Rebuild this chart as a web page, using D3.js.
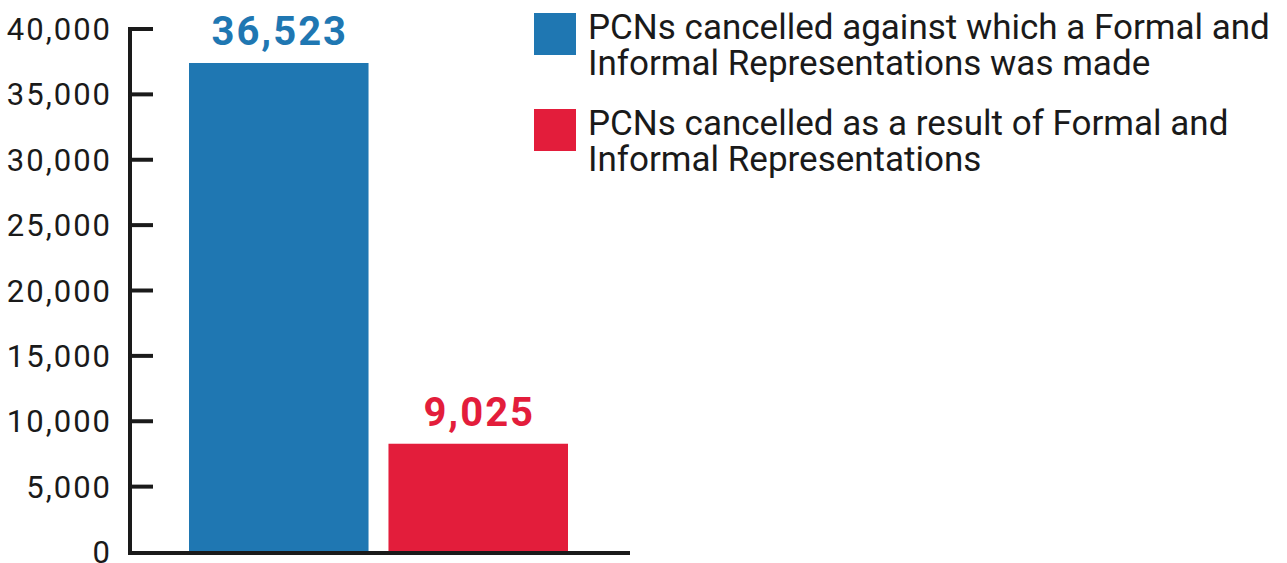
<!DOCTYPE html>
<html>
<meta charset="utf-8">
<title>PCNs cancelled</title>
<style>
  body { margin: 0; background: #fff; }
  svg text { font-family: Roboto, "Liberation Sans", sans-serif; }
  .axis text { font-size: 31px; fill: #1a1a1a; letter-spacing: 2px; }
</style>
<script src="https://d3js.org/d3.v7.min.js"></script>
<body>
<script>
// data
var categories = ['against', 'result'];
var barValues = [37400, 8280];            // bar heights as drawn
var valueLabels = ['36,523', '9,025'];    // printed labels
var colors = ['#1f77b2', '#e31d3b'];
var legendLines = [
  ['PCNs cancelled against which a Formal and', 'Informal Representations was made'],
  ['PCNs cancelled as a result of Formal and', 'Informal Representations']
];
var yTicks = [0, 5000, 10000, 15000, 20000, 25000, 30000, 35000, 40000];

var W = 1287, H = 563;
var svg = d3.select('body').append('svg')
  .attr('width', W).attr('height', H);

var y = d3.scaleLinear().domain([0, 40000]).range([552, 29]);
var x = d3.scaleBand().domain(categories).range([189, 568])
  .paddingInner(0.1).paddingOuter(0);

// bars
svg.selectAll('rect.bar')
  .data(categories)
  .enter().append('rect')
  .attr('class', 'bar')
  .attr('x', function(d) { return x(d); })
  .attr('width', x.bandwidth())
  .attr('y', function(d, i) { return y(barValues[i]); })
  .attr('height', function(d, i) { return y(0) - y(barValues[i]); })
  .style('fill', function(d, i) { return colors[i]; });

// value labels
svg.selectAll('text.val')
  .data(categories)
  .enter().append('text')
  .attr('class', 'val')
  .attr('x', function(d) { return x(d) + x.bandwidth() / 2 + 1; })
  .attr('y', function(d, i) { return y(barValues[i]) - 18; })
  .attr('text-anchor', 'middle')
  .style('font-size', '40px')
  .style('font-weight', 'bold')
  .style('letter-spacing', '2px')
  .style('fill', function(d, i) { return colors[i]; })
  .text(function(d, i) { return valueLabels[i]; });

// y axis
var yAxis = d3.axisLeft(y)
  .tickValues(yTicks)
  .tickSize(0)
  .tickPadding(18)
  .tickFormat(d3.format(','));
var gy = svg.append('g').attr('class', 'axis')
  .attr('transform', 'translate(130,0)')
  .call(yAxis);
gy.select('.domain').remove();
gy.selectAll('text').attr('dy', '0.34em');

// axis lines and tick marks, drawn thick
svg.append('line')
  .attr('x1', 130).attr('x2', 130)
  .attr('y1', y(40000) - 2).attr('y2', y(0) + 2)
  .style('stroke', '#1a1a1a').style('stroke-width', 4);
svg.selectAll('line.tick')
  .data(yTicks.filter(function(d) { return d > 0; }))
  .enter().append('line')
  .attr('class', 'tick')
  .attr('x1', 128).attr('x2', 153)
  .attr('y1', function(d) { return y(d); })
  .attr('y2', function(d) { return y(d); })
  .style('stroke', '#1a1a1a').style('stroke-width', 4);
svg.append('line')
  .attr('x1', 128).attr('x2', 630)
  .attr('y1', y(0) + 1).attr('y2', y(0) + 1)
  .style('stroke', '#1a1a1a').style('stroke-width', 4);

// legend
var legend = svg.selectAll('g.legend')
  .data(legendLines)
  .enter().append('g')
  .attr('class', 'legend')
  .attr('transform', function(d, i) { return 'translate(534,' + (13 + i * 96) + ')'; });

legend.append('rect')
  .attr('width', 42).attr('height', 42)
  .style('fill', function(d, i) { return colors[i]; });

legend.append('text')
  .attr('x', 54)
  .attr('y', 26)
  .style('font-size', '35px')
  .style('fill', '#1a1a1a')
  .selectAll('tspan')
  .data(function(d) { return d; })
  .enter().append('tspan')
  .attr('x', 54)
  .attr('dy', function(d, i) { return i === 0 ? 0 : 36; })
  .text(function(d) { return d; });
</script>
</body>
</html>
